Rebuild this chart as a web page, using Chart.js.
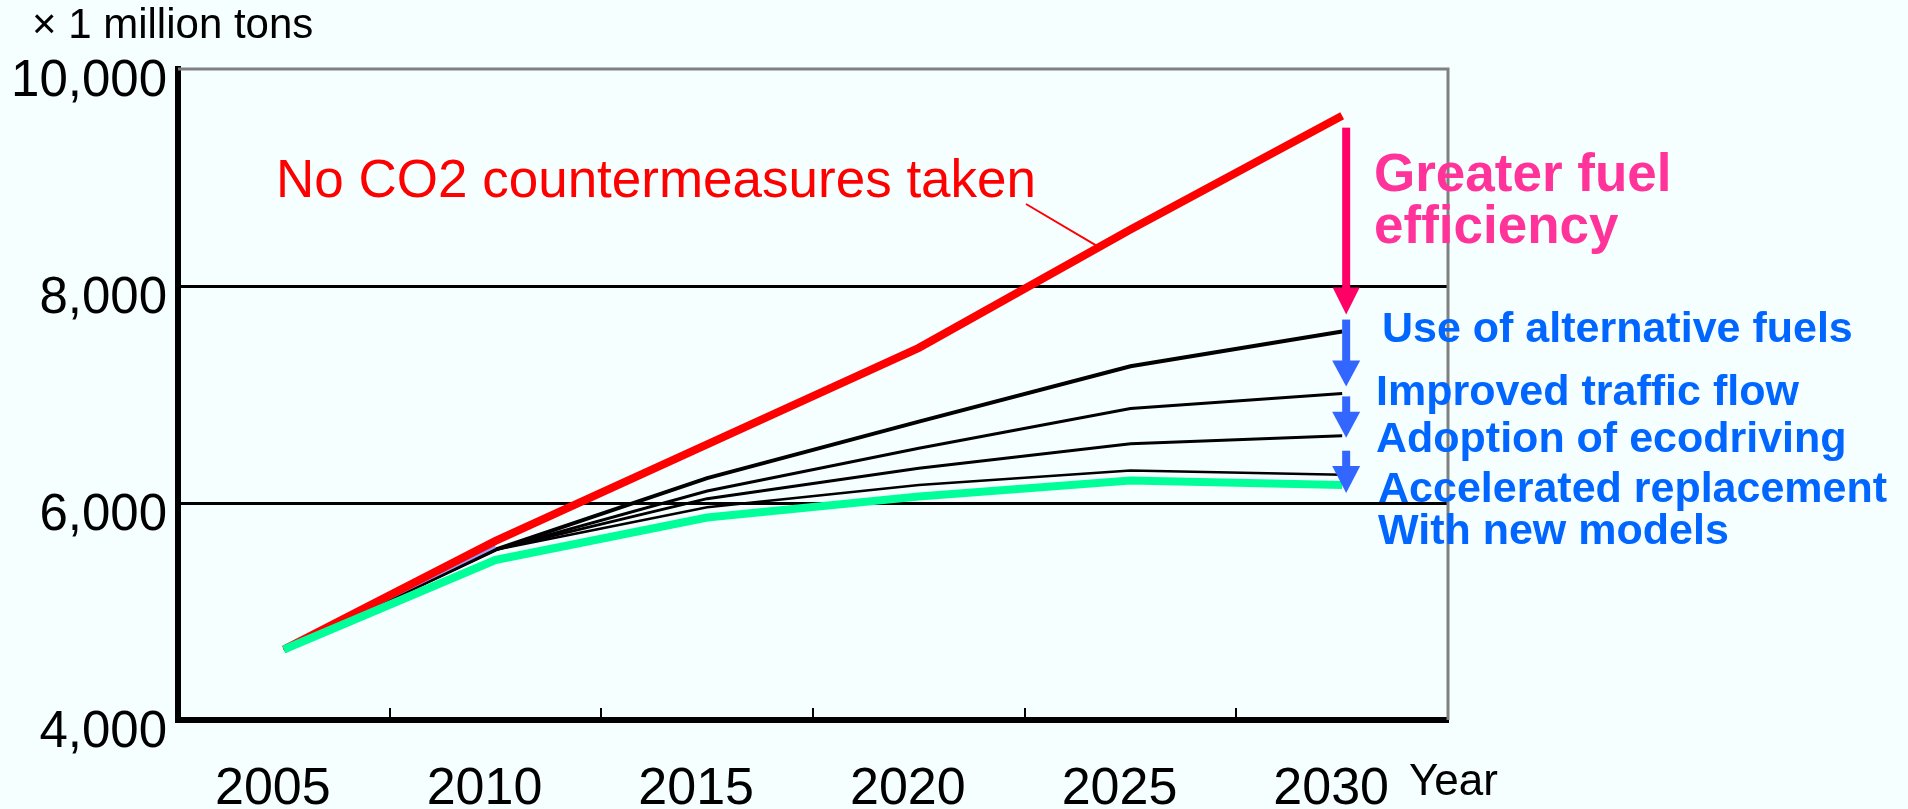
<!DOCTYPE html>
<html>
<head>
<meta charset="utf-8">
<title>CO2 emissions projection</title>
<script src="https://cdn.jsdelivr.net/npm/chart.js@4.4.1/dist/chart.umd.min.js"></script>
<style>
  html, body { margin: 0; padding: 0; background: #f5ffff; }
  canvas { display: block; }
</style>
</head>
<body>
<canvas id="chart" width="1908" height="809"></canvas>
<script>
const years = ['2005', '2010', '2015', '2020', '2025', '2030'];

// x 1 million tons
const noMeasures     = [4650, 5650, 6540, 7430, 8520, 9570];
const fuelEfficiency = [4650, 5570, 6230, 6750, 7260, 7580];
const altFuels       = [4650, 5570, 6110, 6505, 6870, 7010];
const trafficFlow    = [4650, 5570, 6040, 6320, 6545, 6620];
const ecodriving     = [4650, 5570, 5960, 6165, 6300, 6260];
const replacement    = [4650, 5475, 5866, 6060, 6207, 6167];
const earlyPath      = [4650, 5600, null, null, null, null];

const yTicks = [4000, 6000, 8000, 10000];

const FONT = "'Liberation Sans', Arial, sans-serif";
Chart.defaults.font.family = FONT;
Chart.defaults.color = '#000';

function line(data, color, width) {
  return {
    data: data,
    borderColor: color,
    borderWidth: width,
    pointRadius: 0,
    tension: 0,
    fill: false,
    spanGaps: false
  };
}

function arrow(ctx, x, y0, y1, shaftW, headW, headL, color) {
  ctx.fillStyle = color;
  ctx.fillRect(x - shaftW / 2, y0, shaftW, y1 - headL - y0 + 1);
  ctx.beginPath();
  ctx.moveTo(x - headW / 2, y1 - headL);
  ctx.lineTo(x + headW / 2, y1 - headL);
  ctx.lineTo(x, y1);
  ctx.closePath();
  ctx.fill();
}

const decor = {
  id: 'decor',
  beforeDatasetsDraw(chart) {
    const ctx = chart.ctx;
    const a = chart.chartArea;
    const xs = chart.scales.x;
    ctx.save();
    // grey frame on top and right
    ctx.strokeStyle = '#808080';
    ctx.lineWidth = 3;
    ctx.beginPath();
    ctx.moveTo(a.left, a.top);
    ctx.lineTo(a.right, a.top);
    ctx.lineTo(a.right, a.bottom);
    ctx.stroke();
    // small inward ticks between the years
    ctx.strokeStyle = '#000';
    ctx.lineWidth = 2;
    for (let i = 1; i < years.length; i++) {
      const x = Math.round((xs.getPixelForTick(i - 1) + xs.getPixelForTick(i)) / 2);
      ctx.beginPath();
      ctx.moveTo(x, a.bottom - 3);
      ctx.lineTo(x, a.bottom - 12);
      ctx.stroke();
    }
    ctx.restore();
  },
  afterDatasetsDraw(chart) {
    const ctx = chart.ctx;
    const pt = (ds, i) => chart.getDatasetMeta(ds).data[i];
    const last = years.length - 1;
    const red = pt(1, last), b1 = pt(3, last), b2 = pt(4, last), b3 = pt(5, last), gr = pt(0, last);
    const ax = red.x + 4;

    ctx.save();
    ctx.textBaseline = 'alphabetic';
    ctx.textAlign = 'left';

    ctx.fillStyle = '#000';
    ctx.font = '42px ' + FONT;
    ctx.fillText('\u00d7 1 million tons', 32, 38);
    ctx.font = '44px ' + FONT;
    ctx.fillText('Year', 1409, 795);

    // label of the top line, with a leader to it
    const p4 = pt(1, 3), p5 = pt(1, 4);
    const lx = 1099;
    const t = (lx - p4.x) / (p5.x - p4.x);
    const ly = p4.y + (p5.y - p4.y) * t;
    ctx.strokeStyle = '#ff0000';
    ctx.lineWidth = 2;
    ctx.beginPath();
    ctx.moveTo(1026, 204);
    ctx.lineTo(lx, ly);
    ctx.stroke();
    ctx.fillStyle = '#ff0000';
    ctx.font = '53px ' + FONT;
    ctx.fillText('No CO2 countermeasures taken', 276, 197);

    // reduction arrows at 2030
    arrow(ctx, ax, red.y + 12, b1.y - 17, 8, 27, 27, '#ff0066');
    arrow(ctx, ax, b1.y - 12, b2.y - 7, 8, 28, 26, '#3366ff');
    arrow(ctx, ax, b2.y + 3, b3.y + 2, 8, 28, 26, '#3366ff');
    arrow(ctx, ax, b3.y + 15, gr.y + 8, 8, 28, 27, '#3366ff');

    ctx.fillStyle = '#ff3399';
    ctx.font = 'bold 53px ' + FONT;
    ctx.fillText('Greater fuel', 1374, 191);
    ctx.fillText('efficiency', 1374, 243);

    ctx.fillStyle = '#0066ff';
    ctx.font = 'bold 43px ' + FONT;
    ctx.fillText('Use of alternative fuels', 1382, 342);
    ctx.fillText('Improved traffic flow', 1376, 405);
    ctx.fillText('Adoption of ecodriving', 1376, 452);
    ctx.fillText('Accelerated replacement', 1378, 502);
    ctx.fillText('With new models', 1378, 544);
    ctx.restore();
  }
};

new Chart(document.getElementById('chart'), {
  type: 'line',
  data: {
    labels: years,
    datasets: [
      line(replacement, '#00ff99', 8),
      line(noMeasures, '#ff0000', 8),
      line(earlyPath, '#9999ff', 3),
      line(fuelEfficiency, '#000000', 4),
      line(altFuels, '#000000', 3),
      line(trafficFlow, '#000000', 3),
      line(ecodriving, '#000000', 2.5)
    ]
  },
  options: {
    responsive: false,
    animation: false,
    devicePixelRatio: 1,
    layout: { padding: { top: 69, right: 460, left: 0, bottom: 0 } },
    plugins: { legend: { display: false }, tooltip: { enabled: false } },
    scales: {
      x: {
        type: 'category',
        offset: true,
        grid: { offset: true, drawOnChartArea: false, drawTicks: false },
        border: { color: '#000', width: 6 },
        ticks: {
          font: { size: 52 },
          color: '#000',
          padding: 38,
          labelOffset: -11,
          maxRotation: 0,
          autoSkip: false
        },
        afterFit: (s) => { s.height = 89; }
      },
      y: {
        min: yTicks[0],
        max: yTicks[yTicks.length - 1],
        afterBuildTicks: (s) => { s.ticks = yTicks.map(v => ({ value: v })); },
        grid: {
          drawTicks: false,
          lineWidth: 3,
          color: (c) => (c.tick && c.tick.value > yTicks[0] && c.tick.value < yTicks[yTicks.length - 1]) ? '#000' : 'rgba(0,0,0,0)'
        },
        border: { color: '#000', width: 6 },
        ticks: {
          font: { size: 51 },
          color: '#000',
          padding: 11,
          labelOffset: 13,
          callback: (v) => Number(v).toLocaleString('en-US')
        },
        afterFit: (s) => { s.width = 178; }
      }
    }
  },
  plugins: [decor]
});
</script>
</body>
</html>
